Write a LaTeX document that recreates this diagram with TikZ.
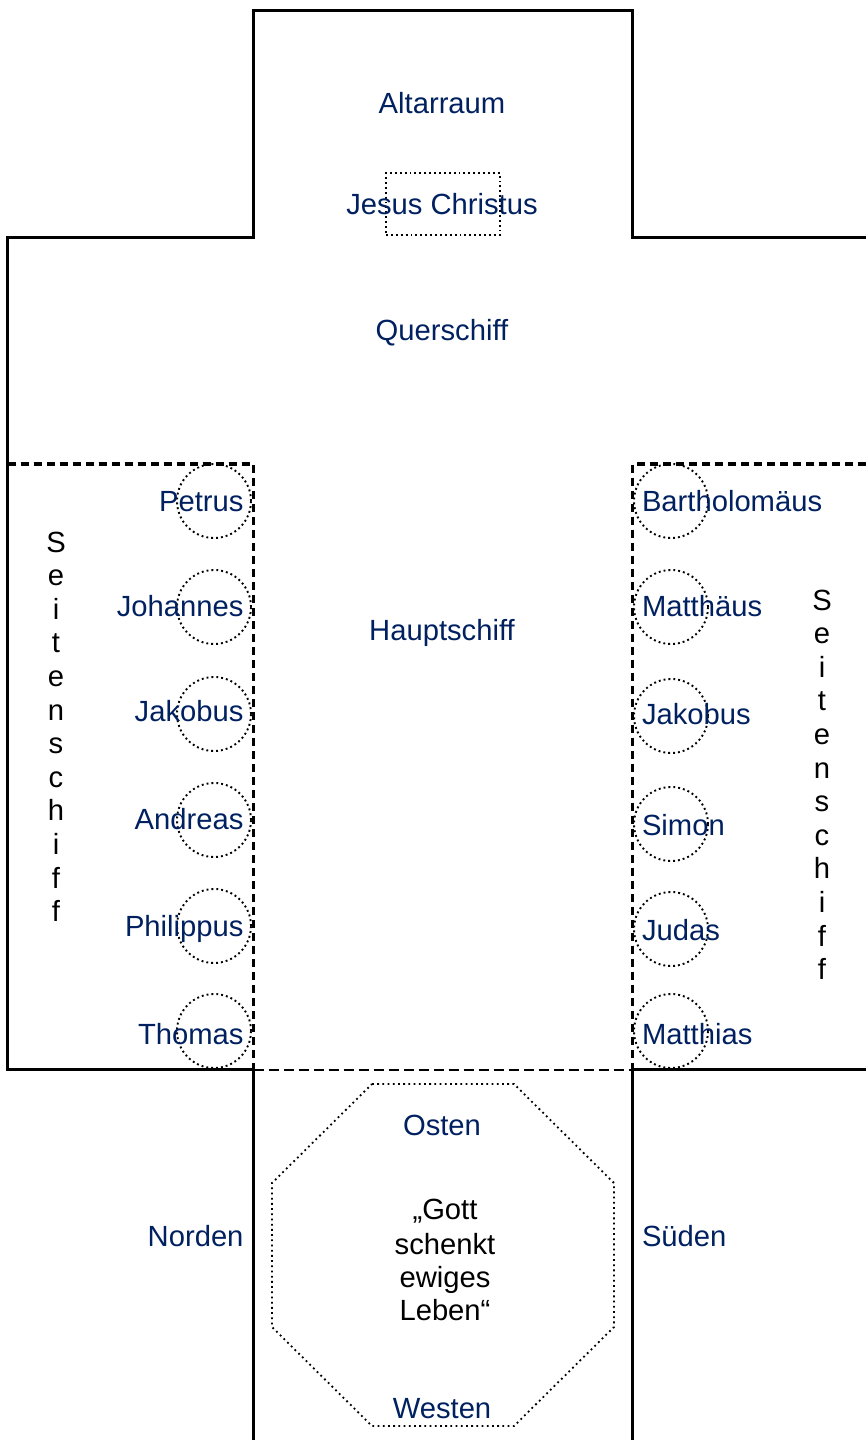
\documentclass[tikz,border=0pt]{standalone}
\usepackage{fontspec}
\setmainfont{Liberation Sans}
\definecolor{navy}{RGB}{0,32,96}
\tikzset{
  wall/.style={line width=3.2pt,line cap=rect,line join=miter},
  walldash/.style={line width=3.6pt,dash pattern=on 8pt off 5pt},
  thindash/.style={line width=2pt,dash pattern=on 10pt off 5pt},
  dots/.style={line width=1.9pt,dash pattern=on 1.9pt off 3pt},
  fine/.style={line width=1.8pt,dash pattern=on 1.8pt off 3.4pt},
  lab/.style={inner sep=0pt,outer sep=0pt,font=\fontsize{29.2}{29.2}\selectfont,text=navy},
  cl/.style={lab,anchor=base},
  rl/.style={lab,anchor=base east},
  ll/.style={lab,anchor=base west},
  bk/.style={inner sep=0pt,outer sep=0pt,font=\fontsize{29.2}{29.2}\selectfont,text=black,anchor=base}
}
\begin{document}
\begin{tikzpicture}[x=1pt,y=-1pt]
\useasboundingbox (0,0) rectangle (866,1440);
% walls
\draw[wall] (866,237.5) -- (632.5,237.5) -- (632.5,10.5) -- (253.5,10.5) -- (253.5,237.5) -- (7.5,237.5) -- (7.5,1069.5) -- (253.5,1069.5) -- (253.5,1440);
\draw[wall] (866,1069.5) -- (632.5,1069.5) -- (632.5,1440);
% aisles
\draw[walldash] (7.5,464) -- (253.5,464) -- (253.5,1069);
\draw[walldash] (866,464) -- (632.5,464) -- (632.5,1069);
\draw[thindash] (253.5,1069.5) -- (632.5,1069.5);
% altar
\node[draw,dots,inner sep=0pt,minimum width=114pt,minimum height=62pt] (altar) at (443,204) {};
% octagon
\draw[fine] (372,1084) -- (514,1084) -- (614,1183) -- (614,1327) -- (514,1426) -- (372,1426) -- (272,1327) -- (272,1183) -- cycle;
% circles
\foreach \n/\y in {a/501,b/607,c/714,d/820,e/926,f/1031}
  \node[draw,circle,dots,inner sep=0pt,minimum size=74pt] (L\n) at (214,\y) {};
\foreach \n/\y in {a/501,b/607,c/716,d/824,e/929,f/1031}
  \node[draw,circle,dots,inner sep=0pt,minimum size=74pt] (R\n) at (671,\y) {};
% central labels
\node[cl] (altarraum) at (442,113.5) {Altarraum};
\node[cl] (jesus) at (442,214.5) {Jesus Christus};
\node[cl] (quer) at (442,340.5) {Querschiff};
\node[cl] (haupt) at (442,640.5) {Hauptschiff};
% apostles
\node[rl] (petrus) at (243.5,511.5) {Petrus};
\node[rl] (johannes) at (243.5,616.5) {Johannes};
\node[rl] (jakobusl) at (243.5,721.5) {Jakobus};
\node[rl] (andreas) at (243.5,829.5) {Andreas};
\node[rl] (philippus) at (243.5,936.5) {Philippus};
\node[rl] (thomas) at (243.5,1044.5) {Thomas};
\node[ll] (bartholomaeus) at (642,511.5) {Bartholomäus};
\node[ll] (matthaeus) at (642,616.5) {Matthäus};
\node[ll] (jakobusr) at (642,724.5) {Jakobus};
\node[ll] (simon) at (642,835.5) {Simon};
\node[ll] (judas) at (642,940.5) {Judas};
\node[ll] (matthias) at (642,1044.5) {Matthias};
% compass
\node[rl] (norden) at (243.5,1246.5) {Norden};
\node[ll] (sueden) at (642,1246.5) {Süden};
\node[cl] (osten) at (442,1135) {Osten};
\node[cl] (westen) at (442,1418.5) {Westen};
% motto
\node[bk] (m1) at (445,1219.5) {„Gott};
\node[bk] (m2) at (445,1254) {schenkt};
\node[bk] (m3) at (445,1287.5) {ewiges};
\node[bk] (m4) at (445,1320) {Leben“};
% side aisles
\foreach \c [count=\i from 0] in {S,e,i,t,e,n,s,c,h,i,f,f} {
  \node[bk] (sl\i) at (56,552+33.6*\i) {\c};
  \node[bk] (sr\i) at (822,610+33.6*\i) {\c};
}
\end{tikzpicture}
\end{document}
